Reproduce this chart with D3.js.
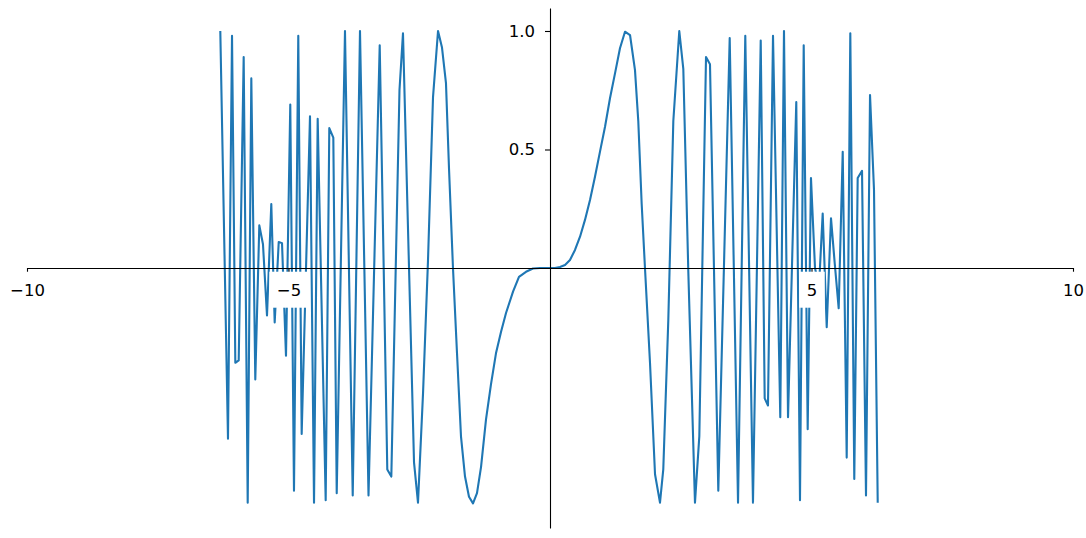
<!DOCTYPE html>
<html>
<head>
<meta charset="utf-8">
<script src="https://cdn.jsdelivr.net/npm/d3@7"></script>
<style>
  body { margin: 0; background: #fff; }
  text { font-family: "DejaVu Sans", sans-serif; }
</style>
</head>
<body>
<div id="chart"></div>
<script>
// curve vertices
var xValues = [
  -6.304, -6.157, -6.080, -6.017, -5.952, -5.857, -5.780, -5.711, -5.635, -5.558,
  -5.488, -5.411, -5.329, -5.264, -5.187, -5.124, -5.048, -4.966, -4.895, -4.813,
  -4.748, -4.589, -4.512, -4.442, -4.289, -4.220, -4.143, -4.078, -3.920, -3.772,
  -3.633, -3.470, -3.256, -3.111, -3.034, -2.878, -2.811, -2.600, -2.524, -2.428,
  -2.333, -2.237, -2.141, -2.065, -1.989, -1.931, -1.855, -1.778, -1.702, -1.625,
  -1.549, -1.472, -1.396, -1.319, -1.224, -1.128, -1.033, -0.937, -0.841, -0.707,
  -0.593, -0.459, -0.325, -0.191, 0.000,
  0.096, 0.191, 0.287, 0.382, 0.478, 0.574, 0.669, 0.765, 0.860, 0.956,
  1.052, 1.147, 1.243, 1.338, 1.434, 1.530, 1.625, 1.688, 1.753, 1.816,
  1.912, 2.008, 2.103, 2.166, 2.262, 2.358, 2.472,
  2.549, 2.644, 2.772, 2.855, 2.983, 3.059, 3.218, 3.436, 3.595, 3.734,
  3.881, 4.029, 4.105, 4.168, 4.264, 4.403, 4.474, 4.551, 4.709, 4.780,
  4.851, 4.927, 4.990, 5.067, 5.143, 5.214, 5.291, 5.373, 5.444, 5.520,
  5.597, 5.673, 5.742, 5.818, 5.883, 5.966, 6.042, 6.119, 6.195, 6.266
];
var yValues = [
  1.00, -0.72, 0.98, -0.40, -0.39, 0.89, -0.99, 0.80, -0.47, 0.18,
  0.10, -0.20, 0.27, -0.23, 0.11, 0.105, -0.37, 0.69, -0.94, 0.98,
  -0.70, 0.64, -0.99, 0.63, -0.98, 0.59, 0.55, -0.95, 1.00, -0.96,
  1.00, -0.96, 0.94, -0.85, -0.88, 0.75, 0.99, -0.82, -0.99, -0.53,
  0.03, 0.72, 1.00, 0.93, 0.78, 0.42, 0.00, -0.36, -0.71, -0.88,
  -0.965, -0.993, -0.95, -0.84, -0.64, -0.49, -0.36, -0.27, -0.19, -0.10,
  -0.037, -0.016, -0.002, 0.000, 0.000,
  0.000, 0.004, 0.013, 0.034, 0.076, 0.132, 0.203, 0.287, 0.385, 0.491,
  0.596, 0.716, 0.821, 0.927, 0.997, 0.983, 0.835, 0.62, 0.27, 0.00,
  -0.40, -0.87, -0.99, -0.85, -0.22, 0.62, 1.00,
  0.84, -0.01, -0.99, -0.71, 0.89, 0.86, -0.94, 0.97, -0.99, 0.98,
  -0.99, 0.96, -0.55, -0.58, 0.98, -0.63, 1.00, -0.63, 0.70, -0.98,
  0.94, -0.68, 0.38, 0.00, -0.08, 0.23, -0.25, 0.21, 0.02, -0.17,
  0.49, -0.80, 0.99, -0.89, 0.38, 0.41, -0.96, 0.73, 0.33, -0.99
];

// axis ticks
var xTicks = [-10, -5, 5, 10];
var yTicks = [0.5, 1.0];

var svgWidth = 1086;
var svgHeight = 538;

var svg = d3.select("#chart")
  .append("svg")
  .attr("width", svgWidth)
  .attr("height", svgHeight);

var x = d3.scaleLinear()
  .domain([-10, 10])
  .range([27, 1073]);

var y = d3.scaleLinear()
  .domain([-1.097, 1.097])
  .range([528, 8]);

var points = xValues.map(function(d, i) { return [d, yValues[i]]; });

var line = d3.line()
  .x(d => x(d[0]))
  .y(d => y(d[1]));

svg.append("path")
  .datum(points)
  .attr("d", line)
  .attr("fill", "none")
  .attr("stroke", "#1f77b4")
  .attr("stroke-width", 2.1)
  .attr("stroke-linejoin", "round");

// x axis through y = 0
var xAxis = svg.append("g")
  .attr("transform", `translate(0, ${y(0)})`)
  .call(d3.axisBottom(x).tickValues(xTicks).tickSize(5).tickSizeOuter(0).tickPadding(11));

// y axis through x = 0
var yAxis = svg.append("g")
  .attr("transform", `translate(${x(0)}, 0)`)
  .call(d3.axisLeft(y).tickValues(yTicks).tickFormat(d3.format(".1f")).tickSize(5).tickSizeOuter(0).tickPadding(10));

[xAxis, yAxis].forEach(function(g) {
  g.selectAll("text")
    .style("font-family", "DejaVu Sans, sans-serif")
    .style("font-size", "16.5px")
    .attr("fill", "#000");
  g.selectAll("line, path").attr("stroke", "#000").attr("stroke-width", 1.1);
});

// white boxes behind the tick labels
[xAxis, yAxis].forEach(function(g) {
  g.selectAll(".tick").each(function() {
    var tick = d3.select(this);
    var bb = tick.select("text").node().getBBox();
    tick.insert("rect", "text")
      .attr("x", bb.x - 7.5)
      .attr("y", bb.y - 9)
      .attr("width", bb.width + 15)
      .attr("height", bb.height + 17)
      .attr("fill", "#fff");
  });
});
</script>
</body>
</html>
